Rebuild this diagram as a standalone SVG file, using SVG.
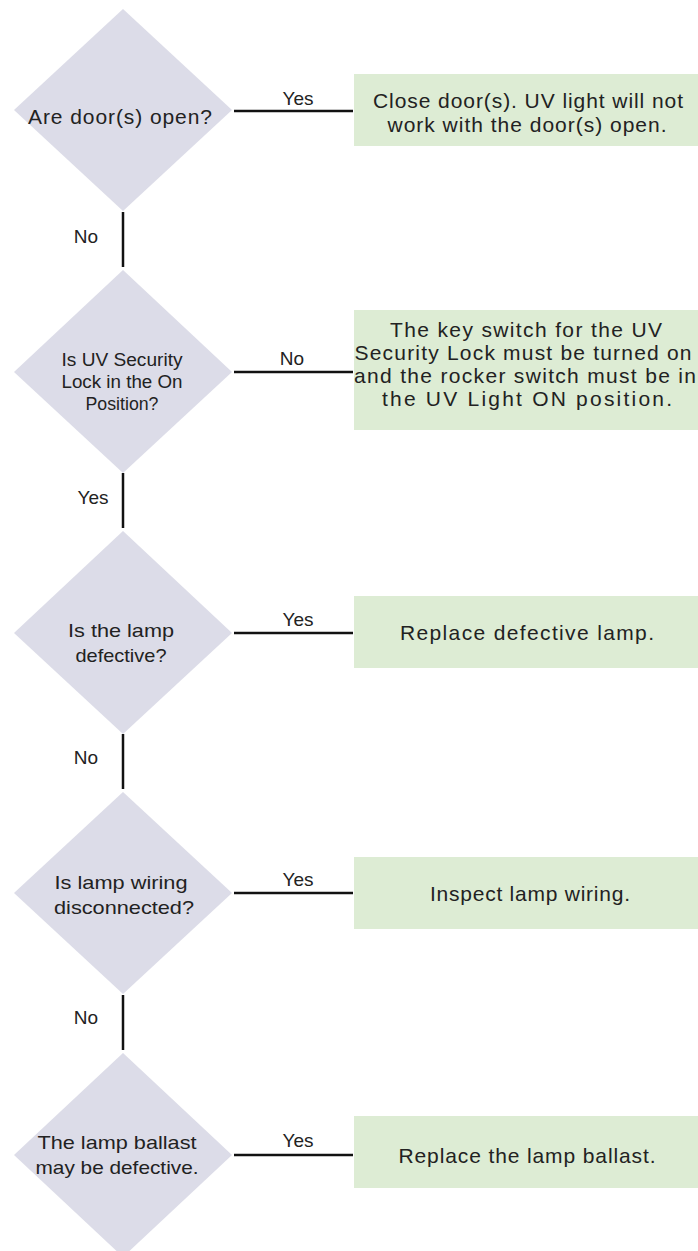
<svg xmlns="http://www.w3.org/2000/svg" width="698" height="1251" viewBox="0 0 698 1251">
<style>
.dia{fill:#dcdce8}
.box{fill:#ddecd4}
.ln{stroke:#111;stroke-width:2.5;fill:none}
text{font-family:"Liberation Sans",Arial,sans-serif;fill:#222;text-anchor:middle;dominant-baseline:central}
.t20{font-size:21px}
.t18{font-size:19px}
.t17{font-size:18px}
.lab{font-size:19px;fill:#222}
</style>
<rect width="698" height="1251" fill="#ffffff"/>
<g id="connectors">
<line class="ln" x1="234" y1="111" x2="353" y2="111"/>
<line class="ln" x1="123" y1="212" x2="123" y2="267"/>
<line class="ln" x1="234" y1="372" x2="353" y2="372"/>
<line class="ln" x1="123" y1="473" x2="123" y2="528"/>
<line class="ln" x1="234" y1="633" x2="353" y2="633"/>
<line class="ln" x1="123" y1="734" x2="123" y2="789"/>
<line class="ln" x1="234" y1="893" x2="353" y2="893"/>
<line class="ln" x1="123" y1="995" x2="123" y2="1050"/>
<line class="ln" x1="234" y1="1155" x2="353" y2="1155"/>
<text class="lab" x="298" y="98">Yes</text>
<text class="lab" x="86" y="236">No</text>
<text class="lab" x="292" y="358">No</text>
<text class="lab" x="93" y="497">Yes</text>
<text class="lab" x="298" y="619">Yes</text>
<text class="lab" x="86" y="757">No</text>
<text class="lab" x="298" y="879">Yes</text>
<text class="lab" x="86" y="1017">No</text>
<text class="lab" x="298" y="1140">Yes</text>
</g>
<g id="d1">
<polygon class="dia" points="123,9 232,110 123,211 14,110"/>
<text class="t20" x="120" y="116" textLength="184" lengthAdjust="spacing">Are door(s)  open?</text>
</g>
<g id="b1">
<rect class="box" x="354" y="74" width="344" height="72"/>
<text class="t20" x="528" y="100" textLength="310" lengthAdjust="spacing">Close door(s). UV light will not</text>
<text class="t20" x="527" y="124" textLength="279" lengthAdjust="spacing">work with the door(s) open.</text>
</g>
<g id="d2">
<polygon class="dia" points="123,270 232,372 123,473 14,372"/>
<text class="t17" x="122" y="360" textLength="121" lengthAdjust="spacingAndGlyphs">Is UV Security</text>
<text class="t17" x="122" y="382" textLength="121" lengthAdjust="spacingAndGlyphs">Lock in the On</text>
<text class="t17" x="122" y="404" textLength="73" lengthAdjust="spacingAndGlyphs">Position?</text>
</g>
<g id="b2">
<rect class="box" x="354" y="310" width="344" height="120"/>
<text class="t20" x="526" y="329" textLength="272" lengthAdjust="spacing">The key switch for the UV</text>
<text class="t20" x="523" y="352" textLength="337" lengthAdjust="spacing">Security Lock must be turned on</text>
<text class="t20" x="525" y="375" textLength="342" lengthAdjust="spacing">and the rocker switch must be in</text>
<text class="t20" x="527" y="398" textLength="290" lengthAdjust="spacing">the UV Light ON position.</text>
</g>
<g id="d3">
<polygon class="dia" points="123,531 232,633 123,734 14,633"/>
<text class="t18" x="121" y="630" textLength="106" lengthAdjust="spacingAndGlyphs">Is the lamp</text>
<text class="t18" x="121" y="655" textLength="91" lengthAdjust="spacingAndGlyphs">defective?</text>
</g>
<g id="b3">
<rect class="box" x="354" y="596" width="344" height="72"/>
<text class="t20" x="527" y="632" textLength="254" lengthAdjust="spacing">Replace defective  lamp.</text>
</g>
<g id="d4">
<polygon class="dia" points="123,792 232,893 123,994 14,893"/>
<text class="t18" x="121" y="882" textLength="133" lengthAdjust="spacingAndGlyphs">Is lamp wiring</text>
<text class="t18" x="124" y="907" textLength="140" lengthAdjust="spacingAndGlyphs">disconnected?</text>
</g>
<g id="b4">
<rect class="box" x="354" y="857" width="344" height="72"/>
<text class="t20" x="530" y="893" textLength="200" lengthAdjust="spacing">Inspect lamp wiring.</text>
</g>
<g id="d5">
<polygon class="dia" points="123,1053 232,1155 123,1257 14,1155"/>
<text class="t18" x="117" y="1142" textLength="159" lengthAdjust="spacingAndGlyphs">The lamp ballast</text>
<text class="t18" x="117" y="1167" textLength="163" lengthAdjust="spacingAndGlyphs">may be defective.</text>
</g>
<g id="b5">
<rect class="box" x="354" y="1116" width="344" height="72"/>
<text class="t20" x="527" y="1155" textLength="257" lengthAdjust="spacing">Replace the lamp ballast.</text>
</g>
</svg>
